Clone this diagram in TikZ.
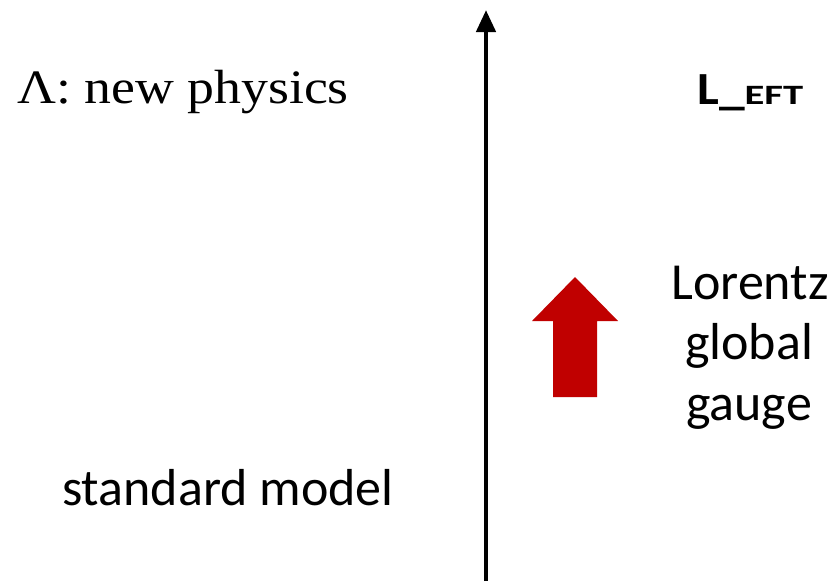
\documentclass[tikz,border=0pt]{standalone}
\usepackage{fontspec}
\setmainfont{Carlito}
\newfontfamily\serifface{Liberation Serif}
\usetikzlibrary{arrows.meta,positioning}
\definecolor{upred}{HTML}{C00000}
% Schrift im Original ist etwas in die Breite gezogen
\newcommand{\wide}[2][1.12]{\scalebox{#1}[1]{#2}}
\tikzset{
  % Energieachse mit Pfeilspitze oben
  scaleaxis/.style={draw=black, line width=4.5pt,
    -{Triangle[width=19pt,length=22pt]}},
  % Beschriftungen (Calibri-artig)
  txt/.style={inner sep=0pt, font=\fontsize{52}{62}\selectfont},
  sym/.style={txt, anchor=base},
  % dicker roter Blockpfeil
  blockarrow/.style={fill=upred, draw=none},
}

\begin{document}
\begin{tikzpicture}[x=1pt,y=-1pt]
\useasboundingbox (0,0) rectangle (834,581);

% ----- Achse -----
\coordinate (axisbot) at (486,581);
\coordinate (axistop) at (486,10);
\draw[scaleaxis] (axisbot) -- (axistop);

% ----- linke Seite -----
\node[inner sep=0pt, anchor=base west, font=\serifface\fontsize{48}{58}\selectfont]
  (newphys) at (17,103) {\wide{Λ: new physics}};
\node[txt, anchor=base west] (sm) at (62,505) {standard model};

% ----- rechte Seite -----
\node[inner sep=0pt, anchor=base west, font=\bfseries\fontsize{46}{54}\selectfont]
  (lagr) at (697,104) {\wide{L\_}\wide[1.45]{\fontsize{28}{34}\selectfont EFT}};
\node[sym] (lorentz) at (750,299) {Lorentz};
\node[sym] (global) at (749,359) {global};
\node[sym] (gauge) at (749,420) {gauge};

% ----- roter Pfeil -----
\fill[blockarrow] (575,277) -- (618,321) -- (597,321) -- (597,397)
  -- (553,397) -- (553,321) -- (532,321) -- cycle;

\end{tikzpicture}
\end{document}
